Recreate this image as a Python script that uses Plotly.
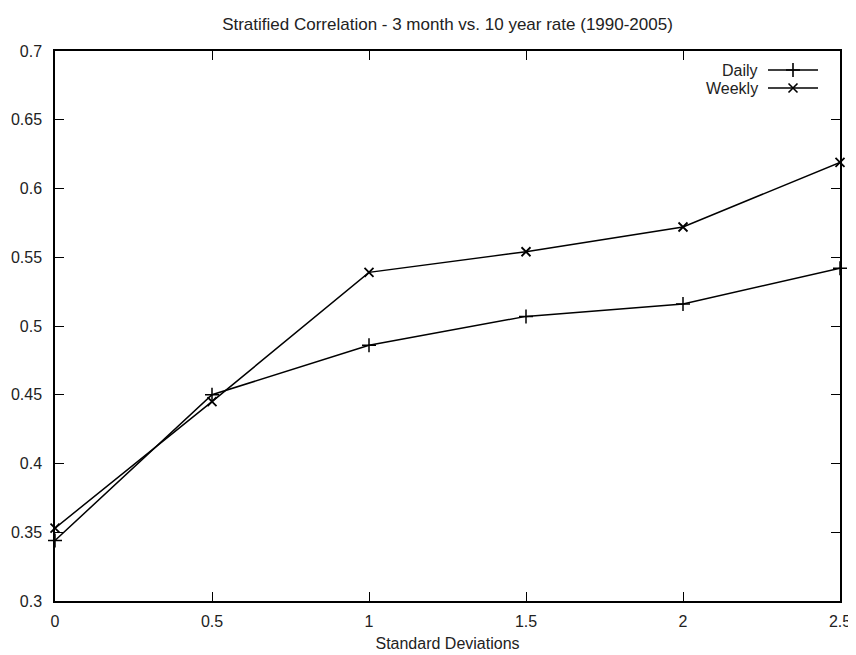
import plotly.graph_objects as go

std_devs = [0, 0.5, 1, 1.5, 2, 2.5]
daily = [0.344, 0.450, 0.486, 0.507, 0.516, 0.542]
weekly = [0.353, 0.445, 0.539, 0.554, 0.572, 0.619]
x_ticks = [0, 0.5, 1, 1.5, 2, 2.5]
x_tick_labels = ["0", "0.5", "1", "1.5", "2", "2.5"]
y_ticks = [0.3, 0.35, 0.4, 0.45, 0.5, 0.55, 0.6, 0.65, 0.7]
y_tick_labels = ["0.3", "0.35", "0.4", "0.45", "0.5", "0.55", "0.6", "0.65", "0.7"]
legend_names = ["Daily", "Weekly"]

FONT = "Liberation Sans, Arial, sans-serif"
TXT = "#222222"

# page body has an 8px margin; compensate so the plot frame lands at
# x 55..840, y 51..601 in the 856x655 window
OFF = 8
FW, FH = 856 - OFF, 655 - OFF
L, R, T = 55 - OFF, (OFF + FW) - 840, 51 - OFF
B = (OFF + FH) - 601

fig = go.Figure()
fig.add_trace(go.Scatter(
    x=std_devs, y=daily, mode="lines+markers", name="Daily",
    line=dict(color="black", width=1.5),
    marker=dict(symbol="cross-thin-open", size=10, color="black",
                line=dict(color="black", width=1.5)),
    showlegend=False, cliponaxis=False))
fig.add_trace(go.Scatter(
    x=std_devs, y=weekly, mode="lines+markers", name="Weekly",
    line=dict(color="black", width=1.5),
    marker=dict(symbol="x-thin-open", size=9, color="black",
                line=dict(color="black", width=1.8)),
    showlegend=False, cliponaxis=False))

# gnuplot-style key (text left, sample right) on an overlay axis in plot-fraction coords
W = 840 - 55
H = 601 - 51
def fx(px):
    return (px - 55) / W
def fy(py):
    return (601 - py) / H

key_rows = [(70, "cross-thin-open", 10), (88, "x-thin-open", 9)]
for (py, sym, sz), name in zip(key_rows, legend_names):
    fig.add_trace(go.Scatter(
        x=[fx(768), fx(818)], y=[fy(py), fy(py)], mode="lines",
        line=dict(color="black", width=1.5), xaxis="x2", yaxis="y2",
        showlegend=False, hoverinfo="skip"))
    fig.add_trace(go.Scatter(
        x=[fx(793)], y=[fy(py)], mode="markers",
        marker=dict(symbol=sym, size=sz, color="black",
                    line=dict(color="black", width=1.6)),
        xaxis="x2", yaxis="y2", showlegend=False, hoverinfo="skip"))
    fig.add_annotation(
        x=fx(760), y=fy(py), xref="x2", yref="y2", text=name, showarrow=False,
        xanchor="right", yanchor="middle", font=dict(family=FONT, size=16, color=TXT))

fig.update_layout(
    width=FW, height=FH,
    margin=dict(l=L, r=R, t=T, b=B, autoexpand=False),
    paper_bgcolor="white", plot_bgcolor="white",
    title=dict(text="Stratified Correlation - 3 month vs. 10 year rate (1990-2005)",
               x=((55 + 840) / 2 - OFF) / FW, xanchor="center",
               y=1 - (24 - OFF) / FH, yanchor="middle",
               font=dict(family=FONT, size=17, color=TXT), automargin=False),
    xaxis=dict(range=[0, 2.5], tickvals=x_ticks, ticktext=x_tick_labels,
               ticks="inside", ticklen=9, tickwidth=1.2, tickcolor="black",
               showline=True, linecolor="black", linewidth=1.5, mirror="allticks",
               showgrid=False, zeroline=False, ticklabelstandoff=5, automargin=False,
               ticklabeloverflow="allow",
               tickfont=dict(family=FONT, size=16, color=TXT),
               title=dict(text="Standard Deviations", standoff=9,
                          font=dict(family=FONT, size=16, color=TXT))),
    yaxis=dict(range=[0.3, 0.7], tickvals=y_ticks, ticktext=y_tick_labels,
               ticks="inside", ticklen=9, tickwidth=1.2, tickcolor="black",
               showline=True, linecolor="black", linewidth=1.5, mirror="allticks",
               showgrid=False, zeroline=False, ticklabelstandoff=8, automargin=False,
               tickfont=dict(family=FONT, size=16, color=TXT)),
    xaxis2=dict(range=[0, 1], overlaying="x", visible=False, fixedrange=True),
    yaxis2=dict(range=[0, 1], overlaying="y", visible=False, fixedrange=True),
)

fig.write_html("out.html")
